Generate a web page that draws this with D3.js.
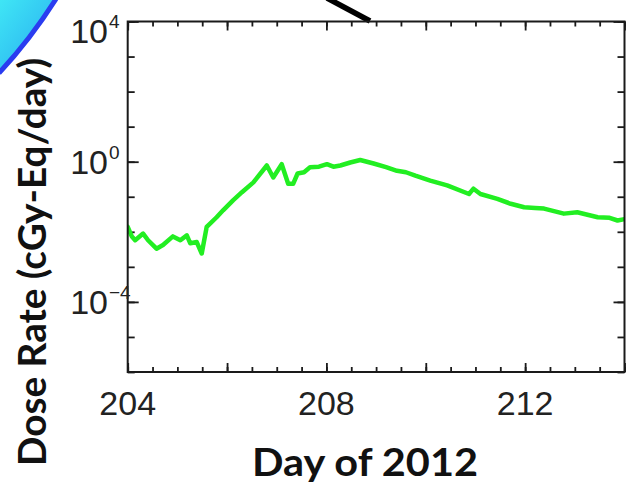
<!DOCTYPE html>
<html>
<head>
<meta charset="utf-8">
<script src="https://cdn.jsdelivr.net/npm/d3@7"></script>
<style>
  html, body { margin: 0; padding: 0; background: #ffffff; }
  svg { display: block; }
</style>
</head>
<body>
<svg id="chart" width="635" height="498"></svg>
<script>
// ---------------- data ----------------
const days = [204.0, 204.08, 204.15, 204.31, 204.41, 204.58, 204.71, 204.91, 205.06, 205.19, 205.26,
  205.39, 205.49, 205.59, 205.79, 205.92, 206.12, 206.30, 206.53, 206.80, 206.93,
  207.10, 207.23, 207.33, 207.42, 207.55, 207.67, 207.85, 208.01, 208.14, 208.28, 208.48, 208.68, 208.95,
  209.20, 209.42, 209.60, 209.79, 210.09, 210.43, 210.87, 210.96, 211.10, 211.44, 211.71, 211.98,
  212.20, 212.38, 212.78, 213.05, 213.46, 213.70, 213.86, 214.0];
const doseRate = [0.0138, 0.0075, 0.00575, 0.0089, 0.00575, 0.0033, 0.0042, 0.0074, 0.00575, 0.0079, 0.0047,
  0.0051, 0.0024, 0.0138, 0.026, 0.041, 0.079, 0.135, 0.257, 0.78, 0.355,
  0.85, 0.234, 0.234, 0.46, 0.50, 0.69, 0.72, 0.85, 0.72, 0.78, 0.95, 1.12, 0.89,
  0.70, 0.55, 0.50, 0.40, 0.29, 0.21, 0.12, 0.17, 0.12, 0.087, 0.063, 0.050,
  0.048, 0.046, 0.033, 0.036, 0.026, 0.025, 0.021, 0.023];
const xLabelTicks = [204, 208, 212];
const xMajorTicks = [204, 206, 208, 210, 212, 214];
const xMinorTicks = d3.range(204, 214.01, 0.5);
const yLabelExps = [4, 0, -4];
const yTickExps = d3.range(-6, 5);
const xTitle = "Day of 2012";
const yTitle = "Dose Rate (cGy-Eq/day)";

// ---------------- layout ----------------
const svg = d3.select("#chart");
const L = 127.7, R = 624.5, T = 21.5, B = 372;
const x = d3.scaleLinear().domain([204, 214]).range([L, R]);
const y = d3.scaleLog().domain([1e-6, 1e4]).range([B, T]);
const axisColor = "#1a1a1a";

// decorative remnants from the cropped figure
const defs = svg.append("defs");
const grad = defs.append("linearGradient").attr("id", "cyan").attr("x1", 0).attr("y1", 0).attr("x2", 1).attr("y2", 1);
grad.append("stop").attr("offset", "0%").attr("stop-color", "#3fe6f5");
grad.append("stop").attr("offset", "100%").attr("stop-color", "#27a8f0");
svg.append("path")
  .attr("d", "M0,0 L56,0 Q30,40 0,73 Z")
  .attr("fill", "url(#cyan)");
svg.append("path")
  .attr("d", "M56,-1 Q30,40 -1,73")
  .attr("fill", "none").attr("stroke", "#2a3cf0").attr("stroke-width", 5);
svg.append("line")
  .attr("x1", 327).attr("y1", -2).attr("x2", 370).attr("y2", 21)
  .attr("stroke", "#000").attr("stroke-width", 5.5);

// ---------------- axes ----------------
function styleAxis(g) {
  g.select(".domain").remove();
  g.selectAll(".tick line").attr("stroke", axisColor).attr("stroke-width", 1.8);
  g.selectAll(".tick text").remove();
}
svg.append("g").attr("transform", `translate(0,${B})`)
  .call(d3.axisBottom(x).tickValues(xMinorTicks).tickSize(-5)).call(styleAxis);
svg.append("g").attr("transform", `translate(0,${B})`)
  .call(d3.axisBottom(x).tickValues(xMajorTicks).tickSize(-9)).call(styleAxis);
svg.append("g").attr("transform", `translate(0,${T})`)
  .call(d3.axisTop(x).tickValues(xMinorTicks).tickSize(-5)).call(styleAxis);
svg.append("g").attr("transform", `translate(0,${T})`)
  .call(d3.axisTop(x).tickValues(xMajorTicks).tickSize(-9)).call(styleAxis);
const yTicks = yTickExps.map(e => Math.pow(10, e));
const yMajor = yLabelExps.map(e => Math.pow(10, e));
svg.append("g").attr("transform", `translate(${L},0)`)
  .call(d3.axisLeft(y).tickValues(yTicks).tickSize(-7)).call(styleAxis);
svg.append("g").attr("transform", `translate(${L},0)`)
  .call(d3.axisLeft(y).tickValues(yMajor).tickSize(-11)).call(styleAxis);
svg.append("g").attr("transform", `translate(${R},0)`)
  .call(d3.axisRight(y).tickValues(yTicks).tickSize(-7)).call(styleAxis);
svg.append("g").attr("transform", `translate(${R},0)`)
  .call(d3.axisRight(y).tickValues(yMajor).tickSize(-11)).call(styleAxis);

// ---------------- line ----------------
const line = d3.line()
  .x((d, i) => x(days[i]))
  .y((d, i) => y(doseRate[i]))
  .curve(d3.curveLinear);
svg.append("defs").append("clipPath").attr("id", "clip")
  .append("rect").attr("x", L).attr("y", T).attr("width", R - L).attr("height", B - T);
svg.append("path")
  .datum(doseRate)
  .attr("clip-path", "url(#clip)")
  .attr("d", line)
  .attr("fill", "none")
  .attr("stroke", "#22ee22")
  .attr("stroke-width", 4.5)
  .attr("stroke-linejoin", "round")
  .attr("stroke-linecap", "round");

svg.append("rect")
  .attr("x", L).attr("y", T).attr("width", R - L).attr("height", B - T)
  .attr("fill", "none").attr("stroke", axisColor).attr("stroke-width", 2);

// ---------------- tick labels ----------------
const tickFont = "'Liberation Sans', Arial, Helvetica, sans-serif";
svg.append("g").selectAll("text").data(xLabelTicks).join("text")
  .attr("x", d => x(d)).attr("y", B + 43)
  .attr("text-anchor", "middle")
  .attr("font-family", tickFont).attr("font-size", 34)
  .attr("fill", "#222")
  .text(d => d);

svg.append("g").selectAll("text").data(yLabelExps).join("text")
  .attr("x", 108).attr("y", e => y(Math.pow(10, e)) + 12 + (e === 4 ? 9 : 0))
  .attr("text-anchor", "end")
  .attr("font-family", tickFont).attr("font-size", 34)
  .attr("fill", "#222")
  .text("10");
svg.append("g").selectAll("text").data(yLabelExps).join("text")
  .attr("x", 109).attr("y", e => y(Math.pow(10, e)) - 3 + (e === 4 ? 9 : 0))
  .attr("text-anchor", "start")
  .attr("font-family", tickFont).attr("font-size", 19)
  .attr("fill", "#222")
  .text(e => e < 0 ? "\u2212" + Math.abs(e) : e);

// ---------------- titles ----------------
const titleFont = "Lato, 'Open Sans', sans-serif";
svg.append("text")
  .attr("x", 365).attr("y", 476)
  .attr("text-anchor", "middle")
  .attr("font-family", titleFont).attr("font-weight", 700).attr("font-size", 39)
  .attr("textLength", 226).attr("lengthAdjust", "spacingAndGlyphs")
  .attr("fill", "#111")
  .text(xTitle);
svg.append("text")
  .attr("transform", "translate(46,262) rotate(-90)")
  .attr("text-anchor", "middle")
  .attr("font-family", titleFont).attr("font-weight", 700).attr("font-size", 38)
  .attr("textLength", 408).attr("lengthAdjust", "spacingAndGlyphs")
  .attr("fill", "#111")
  .text(yTitle);
</script>
</body>
</html>
